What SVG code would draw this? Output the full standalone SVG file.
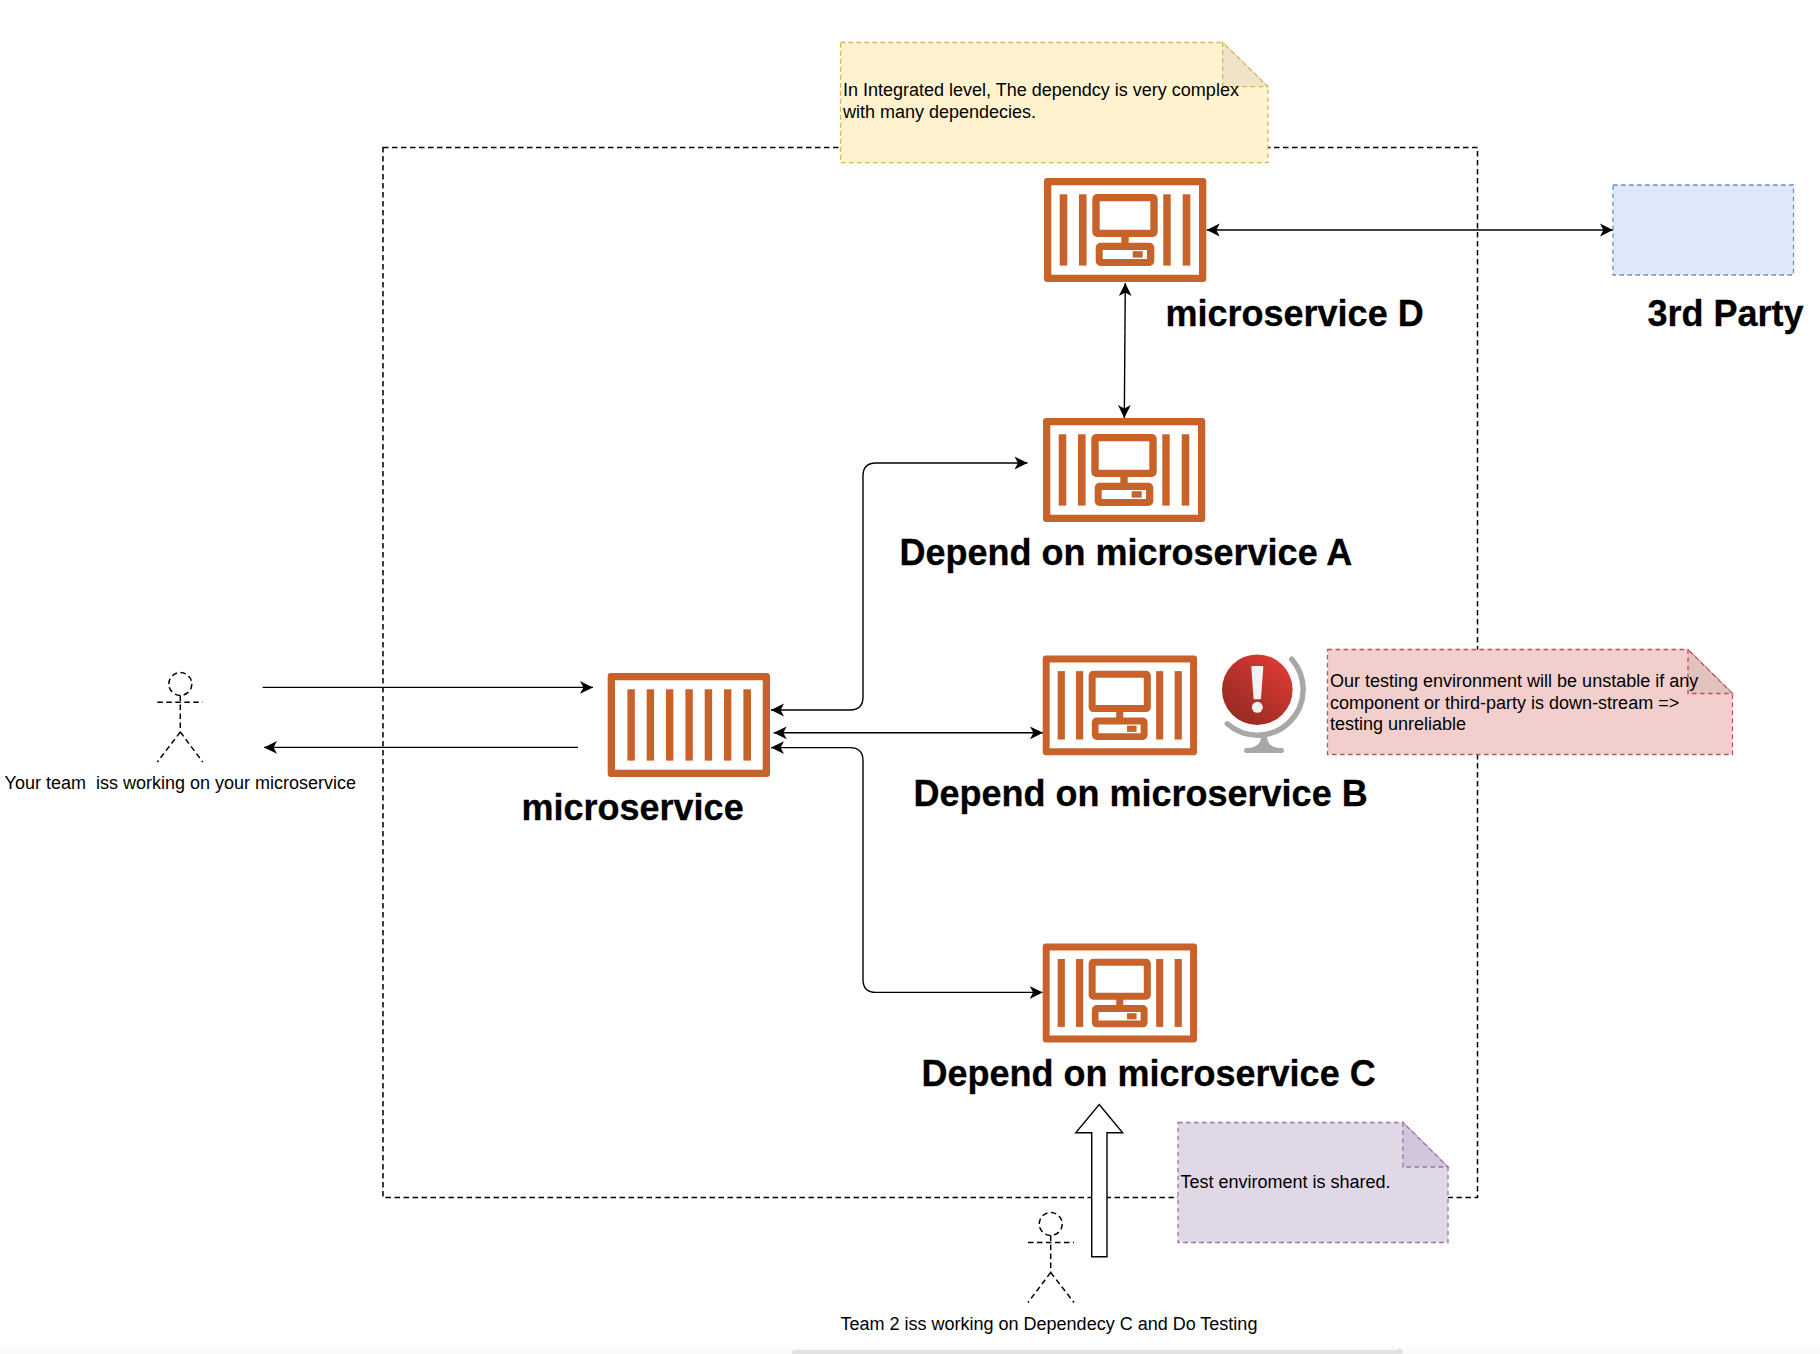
<svg xmlns="http://www.w3.org/2000/svg" width="1820" height="1354" viewBox="0 0 1820 1354">
<style>
text{font-family:"Liberation Sans",Arial,sans-serif;fill:#000;white-space:pre}
.s{font-size:18px}
.b{font-size:36px;font-weight:bold;stroke:#000;stroke-width:.3}
.c{fill:none;stroke:#000;stroke-width:1.4;marker-start:url(#ah);marker-end:url(#ah)}
.one{marker-start:none}
.d{fill:none;stroke:#000;stroke-width:1.5;stroke-dasharray:5.5 3.5}
.o{fill:#c7622a}
.n{stroke-width:1.3;stroke-dasharray:4.6 3.4}
</style>
<defs>
<marker id="ah" markerUnits="userSpaceOnUse" markerWidth="14" markerHeight="14" viewBox="0 0 14 14" refX="13" refY="7" orient="auto-start-reverse">
<path d="M0,0.6 L13,7 L0,13.4 L3.4,7 Z" fill="#000"/>
</marker>
<linearGradient id="gl" x1="0.85" y1="0.1" x2="0.15" y2="0.9">
<stop offset="0" stop-color="#dc3a34"/><stop offset="1" stop-color="#952a22"/>
</linearGradient>
<g id="frame">
<path class="o" fill-rule="evenodd" d="M3.3,0H159A3.3,3.3 0 0 1 162.3,3.3V100.7A3.3,3.3 0 0 1 159,104H3.3A3.3,3.3 0 0 1 0,100.7V3.3A3.3,3.3 0 0 1 3.3,0ZM7.3,7.3V96.7H155V7.3Z"/>
</g>
<g id="pc">
<use href="#frame"/>
<rect class="o" x="15.7" y="16.3" width="7.6" height="71.3"/>
<rect class="o" x="35" y="16.3" width="7.6" height="71.3"/>
<rect class="o" x="119.3" y="16.3" width="7.4" height="71.3"/>
<rect class="o" x="138.7" y="16.3" width="7.6" height="71.3"/>
<path class="o" fill-rule="evenodd" d="M53.3,16H108.7A5,5 0 0 1 113.7,21V54A5,5 0 0 1 108.7,59H84.7V64.7H105.3A5,5 0 0 1 110.3,69.7V83A5,5 0 0 1 105.3,88H56.7A5,5 0 0 1 51.7,83V69.7A5,5 0 0 1 56.7,64.7H77.3V59H53.3A5,5 0 0 1 48.3,54V21A5,5 0 0 1 53.3,16ZM55.7,23.3V51.7H106.3V23.3ZM58.7,72V81H103V72Z"/>
<rect class="o" x="88.7" y="73.2" width="10" height="6.4"/>
</g>
</defs>
<rect width="1820" height="1354" fill="#fff"/>
<rect y="1347" width="1820" height="7" fill="#fafafa"/>
<path d="M792,1354V1353A3,3 0 0 1 795,1350H1397A3,3 0 0 1 1402,1354Z" fill="#e2e2e2"/>
<rect id="environment" class="d" x="383" y="147.5" width="1094.5" height="1050"/>
<g id="connectors">
<path class="c" d="M771,710H850Q863,710 863,697V476Q863,463 876,463H1027.5"/>
<path class="c" d="M773.7,732.8H1043"/>
<path class="c" d="M771,747.6H850Q863,747.6 863,760.6V979.4Q863,992.4 876,992.4H1042.7"/>
<path class="c" d="M1125.3,283L1124.3,418"/>
<path class="c" d="M1206.7,230H1613"/>
<path class="c one" d="M262.7,687.4H593"/>
<path class="c one" d="M578,747.4H264"/>
</g>
<g id="note-yellow">
<path d="M840.5,42.5H1222.7L1268,86.7V162.7H840.5Z" fill="#fff2cf" stroke="#d6b656" class="n"/>
<path d="M1222.7,42.5V86.7H1268Z" fill="#efe5c6" stroke="#d6b656" class="n"/>
<text class="s" x="843" y="96">In Integrated level, The dependcy is very complex</text>
<text class="s" x="843" y="118">with many dependecies.</text>
</g>
<g id="microservice-d">
<use href="#pc" x="1044" y="178"/>
<text class="b" x="1165.5" y="325.5">microservice D</text>
</g>
<g id="third-party">
<rect x="1613" y="185" width="180.5" height="90" fill="#dde8fa" stroke="#6c8ebf" class="n"/>
<text class="b" x="1647.5" y="325.5">3rd Party</text>
</g>
<g id="microservice-a">
<use href="#pc" x="1043" y="418"/>
<text class="b" x="899.5" y="565">Depend on microservice A</text>
</g>
<g id="microservice-b">
<use href="#pc" transform="translate(1042.7 655.5) scale(0.951 0.959)"/>
<text class="b" x="913.5" y="805.5">Depend on microservice B</text>
</g>
<g id="alert-globe">
<path d="M1291.7,659.2A45.7,45.7 0 0 1 1227.3,723.8" fill="none" stroke="#a8a8a8" stroke-width="5.5" stroke-linecap="round"/>
<path d="M1261,736H1267C1267,742 1270,747 1279,748H1281.5A2.5,2.5 0 0 1 1281.5,753H1246.5A2.5,2.5 0 0 1 1246.5,748H1249C1258,747 1261,742 1261,736Z" fill="#a8a8a8"/>
<circle cx="1257.3" cy="689.7" r="35.3" fill="url(#gl)"/>
<path d="M1252.3,666H1262.3A1,1 0 0 1 1263.3,667L1261,698.5A1,1 0 0 1 1260,699.3H1254.5A1,1 0 0 1 1253.5,698.5L1251.3,667A1,1 0 0 1 1252.3,666Z" fill="#f2f2f2"/>
<circle cx="1257.3" cy="707.3" r="5.5" fill="#f2f2f2"/>
</g>
<g id="note-red">
<path d="M1327.5,649.5H1688L1732.5,693.5V754.5H1327.5Z" fill="#f2cfcd" stroke="#b85450" class="n"/>
<path d="M1688,649.5V693.5H1732.5Z" fill="#e3c1bf" stroke="#b85450" class="n"/>
<text class="s" x="1330" y="686.5">Our testing environment will be unstable if any</text>
<text class="s" x="1330" y="708.5">component or third-party is down-stream =&gt;</text>
<text class="s" x="1330" y="730">testing unreliable</text>
</g>
<g id="microservice-c">
<use href="#pc" transform="translate(1042.7 943.5) scale(0.951 0.952)"/>
<text class="b" x="921.5" y="1086">Depend on microservice C</text>
</g>
<g id="microservice">
<use href="#frame" x="607.7" y="673"/>
<g transform="translate(607.7 673)">
<rect class="o" x="19.7" y="16.3" width="7.4" height="71.3"/>
<rect class="o" x="39" y="16.3" width="7.4" height="71.3"/>
<rect class="o" x="58.3" y="16.3" width="7.4" height="71.3"/>
<rect class="o" x="77.7" y="16.3" width="7.4" height="71.3"/>
<rect class="o" x="97" y="16.3" width="7.4" height="71.3"/>
<rect class="o" x="116.3" y="16.3" width="7.4" height="71.3"/>
<rect class="o" x="135.7" y="16.3" width="7.6" height="71.3"/>
</g>
<text class="b" x="521.5" y="820">microservice</text>
</g>
<g id="actor-your-team">
<g class="d">
<circle cx="180.3" cy="684" r="11.5"/>
<path d="M180.3,695.5V732M157.3,702.3H202.7M180.3,732L157.3,762M180.3,732L202.7,762"/>
</g>
<text class="s" x="4.6" y="789">Your team  iss working on your microservice</text>
</g>
<g id="note-purple">
<path d="M1178,1122.5H1403L1448,1167V1242.5H1178Z" fill="#e0d7e7" stroke="#9673a6" class="n"/>
<path d="M1403,1122.5V1167H1448Z" fill="#d2c6da" stroke="#9673a6" class="n"/>
<text class="s" x="1180.5" y="1188">Test enviroment is shared.</text>
</g>
<g id="actor-team-2">
<g class="d">
<circle cx="1050.7" cy="1224" r="11.5"/>
<path d="M1050.7,1235.5V1272.5M1028,1242.5H1074M1050.7,1272.5L1028,1302.5M1050.7,1272.5L1074,1302.5"/>
</g>
<text class="s" x="840.5" y="1329.5">Team 2 iss working on Dependecy C and Do Testing</text>
</g>
<path id="block-arrow" d="M1099.2,1104.5L1122.7,1132.8H1107V1256.8H1091.7V1132.8H1075.7Z" fill="#fff" stroke="#000" stroke-width="1.4"/>
</svg>
